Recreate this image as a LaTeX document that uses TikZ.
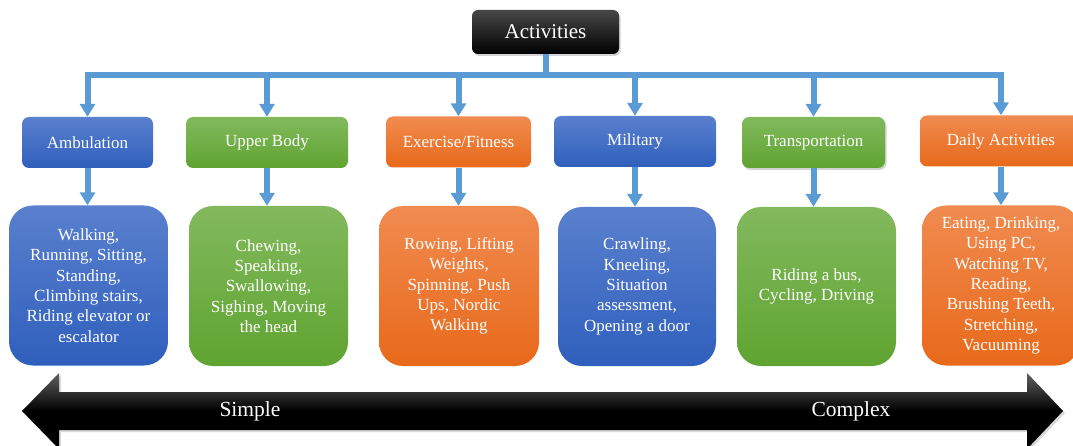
\documentclass[tikz,border=0pt]{standalone}
\usepackage{fontspec}
\setmainfont{LiberationSerif-Regular.ttf}
\usetikzlibrary{arrows.meta,shadows}
\definecolor{bluetop}{HTML}{5A80CE}
\definecolor{bluebot}{HTML}{2F5FBC}
\definecolor{greentop}{HTML}{82B95D}
\definecolor{greenbot}{HTML}{5FA431}
\definecolor{orangetop}{HTML}{F08B50}
\definecolor{orangebot}{HTML}{E8691A}
\definecolor{connc}{HTML}{5B9BD5}
\begin{document}
\begin{tikzpicture}[x=1pt,y=-1pt,
  cat/.style={rounded corners=7pt, text=white, font=\rmfamily\fontsize{17}{20.4}\selectfont,
    minimum height=51pt, inner sep=0pt},
  det/.style={rounded corners=24pt, text=white, font=\rmfamily\fontsize{17}{20.4}\selectfont,
    align=center, minimum height=160pt, inner sep=0pt},
  bluefill/.style={top color=bluetop, bottom color=bluebot},
  greenfill/.style={top color=greentop, bottom color=greenbot},
  orangefill/.style={top color=orangetop, bottom color=orangebot},
  softshadow/.style={drop shadow={opacity=0.35, shadow xshift=1.5pt, shadow yshift=-2pt}},
  link/.style={draw=connc, line width=6pt},
  arr/.style={draw=connc, line width=6pt, -{Triangle[width=15pt,length=13pt]}},
  biglabel/.style={text=white, font=\rmfamily\fontsize{21.5}{25}\selectfont}
]
\useasboundingbox (0,0) rectangle (1073,446);

% top node
\node[rounded corners=6pt, top color=black!72, bottom color=black, text=white,
      font=\rmfamily\fontsize{21}{25}\selectfont, minimum width=147pt, minimum height=44pt,
      inner sep=0pt, softshadow] (act) at (545.5,32) {Activities};

% category row
\node[cat,bluefill,minimum width=131pt] (amb) at (87.5,142.5) {Ambulation};
\node[cat,greenfill,minimum width=162pt] (ub) at (267,142.5) {Upper Body};
\node[cat,orangefill,minimum width=145pt] (ex) at (458.5,142) {Exercise/Fitness};
\node[cat,bluefill,minimum width=162pt] (mil) at (635,141.5) {Military};
\node[cat,greenfill,minimum width=143pt,softshadow] (tr) at (813.5,142.5) {Transportation};
\node[cat,orangefill,minimum width=162pt] (day) at (1001,141) {Daily Activities};

% detail row
\node[det,bluefill,minimum width=159pt] (amb2) at (88.5,285.5)
  {Walking,\\Running, Sitting,\\Standing,\\Climbing stairs,\\Riding elevator or\\escalator};
\node[det,greenfill,minimum width=159pt] (ub2) at (268.5,286)
  {Chewing,\\Speaking,\\Swallowing,\\Sighing, Moving\\the head};
\node[det,orangefill,minimum width=160pt] (ex2) at (459,286)
  {Rowing, Lifting\\Weights,\\Spinning, Push\\Ups, Nordic\\Walking};
\node[det,bluefill,minimum width=158pt,minimum height=159pt] (mil2) at (637,286.5)
  {Crawling,\\Kneeling,\\Situation\\assessment,\\Opening a door};
\node[det,greenfill,minimum width=159pt,minimum height=159pt] (tr2) at (816.5,286.5)
  {Riding a bus,\\Cycling, Driving};
\node[det,orangefill,minimum width=158pt] (day2) at (1001,285.5)
  {Eating, Drinking,\\Using PC,\\Watching TV,\\Reading,\\Brushing Teeth,\\Stretching,\\Vacuuming};

% connectors
\coordinate (busL) at (87.5,75.5);
\coordinate (busR) at (1001,75.5);
\draw[link] (act.south) -- (act.south |- busL);
\draw[link,line cap=rect] (busL) -- (busR);
\foreach \n in {amb,ub,ex,mil,tr,day}{
  \draw[arr] (\n.north |- busL) -- (\n.north);
  \draw[arr] (\n.south) -- (\n.south |- \n2.north);
}

% complexity arrow
\path[top color=black!62, bottom color=black, middle color=black,
      drop shadow={opacity=0.3, shadow xshift=2pt, shadow yshift=-2pt}]
  (22,411) -- (59,373) -- (59,392) -- (1027,392) -- (1027,373) -- (1063,411)
  -- (1027,449) -- (1027,430) -- (59,430) -- (59,449) -- cycle;
\node[biglabel] (simple) at (250,411) {Simple};
\node[biglabel] (complex) at (851,411) {Complex};
\end{tikzpicture}
\end{document}
